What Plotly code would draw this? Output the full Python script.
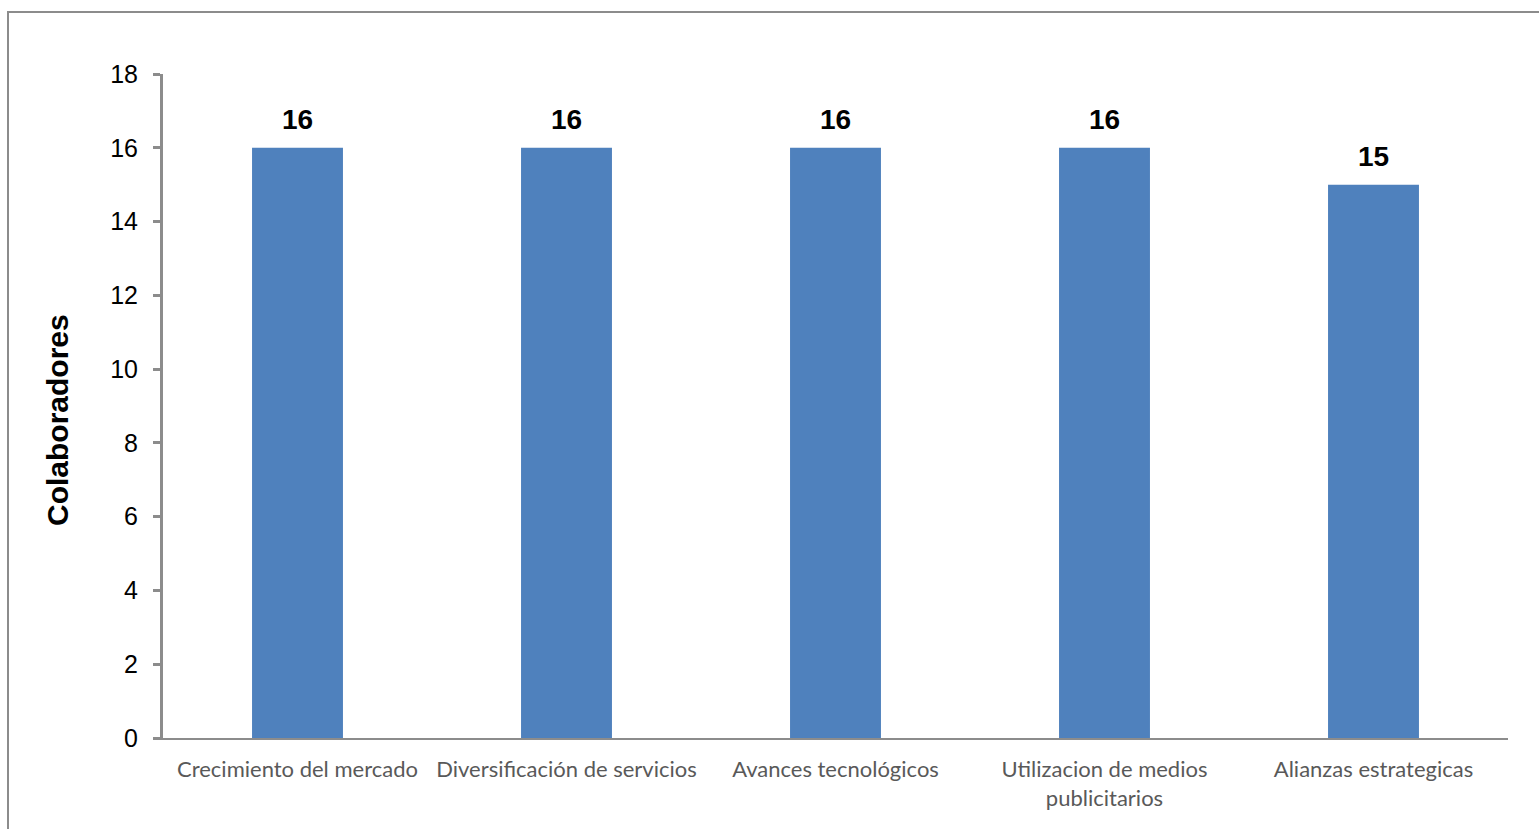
import plotly.graph_objects as go

categorias = [
    "Crecimiento del mercado",
    "Diversificación de servicios",
    "Avances tecnológicos",
    "Utilizacion de medios<br>publicitarios",
    "Alianzas estrategicas",
]
colaboradores = [16, 16, 16, 16, 15]
ticks_y = [0, 2, 4, 6, 8, 10, 12, 14, 16, 18]

L, R, T, B = 163, 31, 74, 91
W, H = 1539, 829
plot_w = W - L - R
plot_h = H - T - B

fig = go.Figure(
    go.Bar(
        x=categorias,
        y=colaboradores,
        marker=dict(color="#4F81BD", line=dict(width=0)),
        width=0.338,
        hoverinfo="x+y",
    )
)

# value labels above each bar
for cat, val in zip(categorias, colaboradores):
    fig.add_annotation(
        x=cat,
        y=val,
        text=f"<b>{val}</b>",
        showarrow=False,
        yanchor="bottom",
        yshift=11,
        font=dict(family="Liberation Sans, Arial", size=28, color="#000000"),
    )

# vertical axis title
fig.add_annotation(
    xref="paper",
    yref="paper",
    x=(57 - L) / plot_w,
    y=(H - B - 420) / plot_h,
    text="<b>Colaboradores</b>",
    textangle=-90,
    showarrow=False,
    xanchor="center",
    yanchor="middle",
    font=dict(family="Liberation Sans, Arial", size=30, color="#000000"),
)

fig.update_layout(
    width=W,
    height=H,
    margin=dict(l=L, r=R, t=T, b=B),
    paper_bgcolor="white",
    plot_bgcolor="white",
    showlegend=False,
    xaxis=dict(
        showgrid=False,
        showline=True,
        linecolor="#8C8C8C",
        linewidth=2,
        ticks="",
        ticklabelstandoff=11,
        tickfont=dict(family="Lato, Calibri, sans-serif", size=22, color="#595959"),
    ),
    yaxis=dict(
        range=[0, 18],
        tickvals=ticks_y,
        showgrid=False,
        zeroline=False,
        showline=True,
        linecolor="#8C8C8C",
        linewidth=3,
        ticks="outside",
        ticklen=7,
        tickwidth=3,
        tickcolor="#8C8C8C",
        ticklabelstandoff=10,
        tickfont=dict(family="Liberation Sans, Arial", size=25, color="#000000"),
    ),
    shapes=[
        dict(
            type="rect",
            xref="paper",
            yref="paper",
            x0=(8 - L) / plot_w,
            x1=1.2,
            y0=-0.3,
            y1=(H - B - 12) / plot_h,
            line=dict(color="#8C8C8C", width=2),
            fillcolor="rgba(0,0,0,0)",
            layer="below",
        )
    ],
)

fig.write_html("out.html")
